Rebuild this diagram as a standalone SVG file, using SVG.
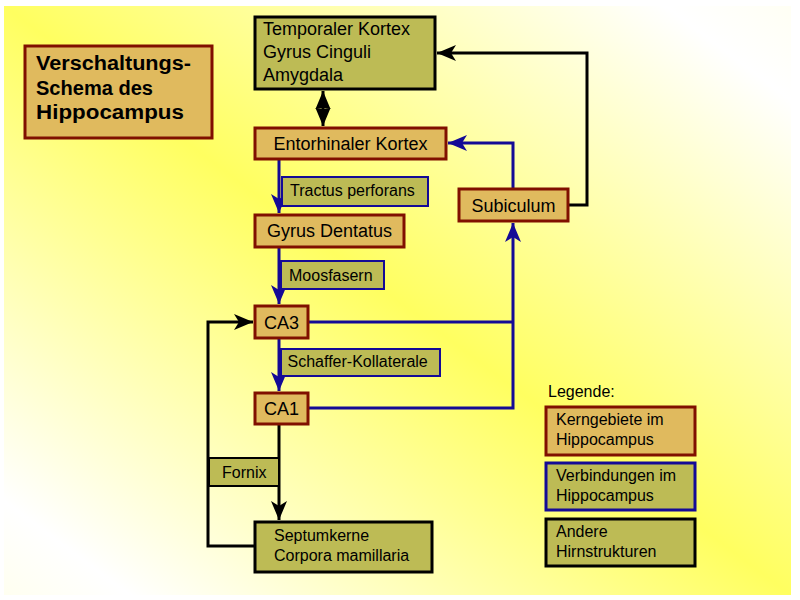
<svg xmlns="http://www.w3.org/2000/svg" width="800" height="600" viewBox="0 0 800 600">
<defs>
<linearGradient id="bg" x1="1" y1="0" x2="0" y2="1">
<stop offset="0" stop-color="#fffff4"/>
<stop offset="0.08" stop-color="#ffffff"/>
<stop offset="0.5" stop-color="#ffff60"/>
<stop offset="0.92" stop-color="#ffffff"/>
<stop offset="1" stop-color="#fffff0"/>
</linearGradient>
<marker id="ab" markerUnits="userSpaceOnUse" viewBox="-20 -9 21 18" refX="0" refY="0" markerWidth="21" markerHeight="18" orient="auto-start-reverse">
<path d="M0,0 L-19,-8 L-14,0 L-19,8 Z" fill="#000"/>
</marker>
<marker id="ad" markerUnits="userSpaceOnUse" viewBox="-19 -9 20 18" refX="0" refY="0" markerWidth="20" markerHeight="18" orient="auto-start-reverse">
<path d="M0,0 L-18,-7.5 L-17,0 L-18,7.5 Z" fill="#000"/>
</marker>
<marker id="au" markerUnits="userSpaceOnUse" viewBox="-20 -9 21 18" refX="0" refY="0" markerWidth="21" markerHeight="18" orient="auto">
<path d="M0,0 L-19,-8 L-14,0 L-19,8 Z" fill="#140a96"/>
</marker>
</defs>
<style>
text { font-family: "Liberation Sans", Arial, sans-serif; fill: #000; }
.n { font-size: 18px; }
.l { font-size: 16px; }
.c { text-anchor: middle; }
.t { font-size: 20px; font-weight: bold; }
.core { fill: #e0ba5e; stroke: #801000; stroke-width: 3; }
.other { fill: #bdbb55; stroke: #000; stroke-width: 3; }
.conn { fill: #bdbb55; stroke: #140a96; stroke-width: 2; }
.connb { fill: #bdbb55; stroke: #000; stroke-width: 2; }
.leg1 { fill: #e0ba5e; stroke: #801000; stroke-width: 3; }
.leg2 { fill: #bdbb55; stroke: #140a96; stroke-width: 3; }
.leg3 { fill: #bdbb55; stroke: #000; stroke-width: 3; }
.eb { fill: none; stroke: #140a96; stroke-width: 3; }
.ek { fill: none; stroke: #000; stroke-width: 3; }
</style>
<rect x="4" y="6" width="787" height="589" fill="url(#bg)"/>

<g id="connectors">
<path class="eb" d="M279,160 V213" marker-end="url(#au)"/>
<path class="eb" d="M279,247 V304" marker-end="url(#au)"/>
<path class="eb" d="M279,338 V391" marker-end="url(#au)"/>
<path class="eb" d="M308,322 H513"/>
<path class="eb" d="M308,408 H513 V223" marker-end="url(#au)"/>
<path class="eb" d="M513,189 V143 H448" marker-end="url(#au)"/>
<path class="ek" d="M568,205 H587 V53 H437" marker-end="url(#ab)"/>
<path class="ek" d="M279,424 V520" marker-end="url(#ab)"/>
<path class="ek" d="M255,546 H208 V322 H253" marker-end="url(#ab)"/>
<path class="ek" d="M323,91 V126" marker-start="url(#ad)" marker-end="url(#ad)"/>
</g>

<g id="title">
<rect class="core" x="25" y="46" width="187" height="92"/>
<text class="t" x="36" y="70" textLength="155" lengthAdjust="spacingAndGlyphs">Verschaltungs-</text>
<text class="t" x="36" y="95" textLength="117" lengthAdjust="spacingAndGlyphs">Schema des</text>
<text class="t" x="36" y="119" textLength="148" lengthAdjust="spacingAndGlyphs">Hippocampus</text>
</g>

<g id="temporal">
<rect class="other" x="255" y="17" width="180" height="72"/>
<text class="n" x="263" y="35">Temporaler Kortex</text>
<text class="n" x="263" y="58">Gyrus Cinguli</text>
<text class="n" x="263" y="81">Amygdala</text>
</g>

<g id="entorhinal">
<rect class="core" x="255" y="128" width="191" height="31"/>
<text class="n c" x="350.5" y="150">Entorhinaler Kortex</text>
</g>

<g id="subiculum">
<rect class="core" x="459" y="189" width="109" height="32"/>
<text class="n c" x="513.5" y="212">Subiculum</text>
</g>

<g id="tractus">
<rect class="conn" x="282" y="177" width="146" height="29"/>
<text class="l" x="290" y="196">Tractus perforans</text>
</g>

<g id="gyrus">
<rect class="core" x="255" y="215" width="149" height="32"/>
<text class="n c" x="329.5" y="237">Gyrus Dentatus</text>
</g>

<g id="moosfasern">
<rect class="conn" x="281" y="261" width="103" height="28"/>
<text class="l" x="289" y="281">Moosfasern</text>
</g>

<g id="ca3">
<rect class="core" x="255" y="306" width="53" height="32"/>
<text class="n c" x="281.5" y="329">CA3</text>
</g>

<g id="schaffer">
<rect class="conn" x="281" y="349" width="159" height="27"/>
<text class="l" x="287.5" y="367">Schaffer-Kollaterale</text>
</g>

<g id="ca1">
<rect class="core" x="255" y="393" width="53" height="31"/>
<text class="n c" x="281.5" y="415">CA1</text>
</g>

<g id="fornix">
<rect class="connb" x="209" y="458" width="70" height="28"/>
<text class="l" x="222" y="478">Fornix</text>
</g>

<g id="septum">
<rect class="other" x="255" y="522" width="177" height="50"/>
<text class="l" x="274" y="541">Septumkerne</text>
<text class="l" x="274" y="561">Corpora mamillaria</text>
</g>

<g id="legend">
<text class="l" x="548" y="397">Legende:</text>
<rect class="leg1" x="546" y="407" width="149" height="48"/>
<text class="l" x="556" y="425">Kerngebiete im</text>
<text class="l" x="556" y="445">Hippocampus</text>
<rect class="leg2" x="546" y="463" width="149" height="47"/>
<text class="l" x="556" y="481">Verbindungen im</text>
<text class="l" x="556" y="501">Hippocampus</text>
<rect class="leg3" x="546" y="519" width="149" height="47"/>
<text class="l" x="556" y="537">Andere</text>
<text class="l" x="556" y="557">Hirnstrukturen</text>
</g>
</svg>
